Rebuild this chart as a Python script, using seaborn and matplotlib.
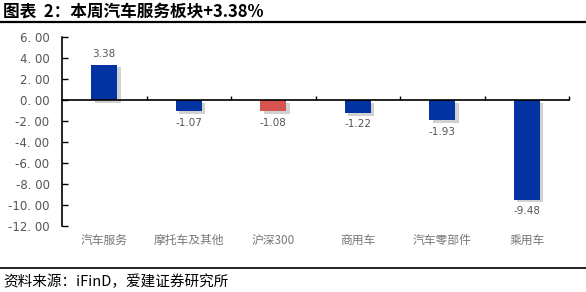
import matplotlib
matplotlib.use("Agg")
import matplotlib.pyplot as plt
import matplotlib.patheffects as pe
import matplotlib.transforms as mtransforms
import seaborn as sns
import pandas as pd
import numpy as np

categories = ["汽车服务", "摩托车及其他", "沪深300", "商用车", "汽车零部件", "乘用车"]
values = [3.38, -1.07, -1.08, -1.22, -1.93, -9.48]
bar_colors = ["#0333A0", "#0333A0", "#D65450", "#0333A0", "#0333A0", "#0333A0"]
yticks = [6, 4, 2, 0, -2, -4, -6, -8, -10, -12]
ytick_labels = [f"{v:.2f}".replace(".", ". ") for v in yticks]
title = "图表  2：本周汽车服务板块+3.38%"
source = "资料来源：iFinD，爱建证券研究所"

sns.set_theme(style="white")
plt.rcParams['font.family'] = ['Noto Sans CJK SC', 'DejaVu Sans']

df = pd.DataFrame({"cat": categories, "val": values})

fig = plt.figure(figsize=(5.86, 2.92), dpi=100)
ax = fig.add_axes([62/586, 1-226/292, (569-62)/586, (226-37)/292])

sns.barplot(data=df, x="cat", y="val", hue="cat", palette=bar_colors,
            width=0.31, legend=False, ax=ax, saturation=1, linewidth=0)
for p in ax.patches:
    p.set_linewidth(0)
    p.set_path_effects([pe.SimplePatchShadow(offset=(2.5, -2), shadow_rgbFace="#9a9a9a", alpha=0.45), pe.Normal()])

ax.set_xlim(-0.5, 5.5)
ax.set_ylim(-12, 6)
ax.set_yticks(yticks)
ax.set_yticklabels(ytick_labels, color="#555555", fontsize=8.5, family=['DejaVu Sans'])
ax.tick_params(axis='y', direction='in', length=4, width=1, color="black", left=True, pad=9)

ax.spines['top'].set_visible(False)
ax.spines['right'].set_visible(False)
ax.spines['left'].set_color("black")
ax.spines['left'].set_linewidth(1.2)
ax.spines['bottom'].set_position(('data', 0))
ax.spines['bottom'].set_color("black")
ax.spines['bottom'].set_linewidth(1.2)
ax.set_xticks(np.arange(0.5, 6, 1.0), minor=True)
ax.set_xticks(range(len(categories)))
ax.set_xticklabels([])
ax.tick_params(axis='x', which='major', length=0)
ax.tick_params(axis='x', which='minor', direction='in', length=3, width=1, color="black", bottom=True)
ax.set_xlabel("")
ax.set_ylabel("")

trans = mtransforms.blended_transform_factory(ax.transData, ax.transAxes)
for i, c in enumerate(categories):
    ax.text(i, -0.075, c, transform=trans, ha="center", va="center",
            fontsize=8.5, color="#777777")

for i, v in enumerate(values):
    if v >= 0:
        ax.text(i, v + 0.5, f"{v:.2f}", ha="center", va="bottom", fontsize=7.5,
                color="#555555", family=['DejaVu Sans'])
    else:
        ax.text(i, v - 0.6, f"{v:.2f}", ha="center", va="top", fontsize=7.5,
                color="#555555", family=['DejaVu Sans'])

fig.text(3/586, 1-11/292, title, fontsize=12, fontweight="bold", ha="left", va="center", color="black")
fig.add_artist(plt.Line2D([0, 1], [1-22/292, 1-22/292], color="black", lw=1.6))
fig.add_artist(plt.Line2D([0, 1], [1-268/292, 1-268/292], color="black", lw=1.2))
fig.text(3/586, 1-282/292, source, fontsize=10.5, ha="left", va="center", color="black")

fig.savefig("out.png", dpi=100)
